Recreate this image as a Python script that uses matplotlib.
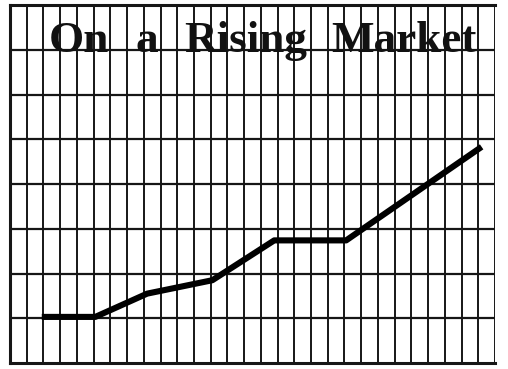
import matplotlib.pyplot as plt
import numpy as np

# chart values, in grid squares
title_words = ["On", "a", "Rising", "Market"]
x_vals = [1.9, 5.1, 8.2, 12.1, 15.8, 20.1, 28.2]
y_vals = [1.03, 1.03, 1.55, 1.85, 2.74, 2.74, 4.83]
n_cols = 29
n_rows = 8

fig = plt.figure(figsize=(5.08, 3.69), dpi=100)
ax = fig.add_axes([10 / 508, 6 / 369, 485 / 508, 358 / 369])
ax.set_xlim(0, n_cols)
ax.set_ylim(0, n_rows)

ink = "#161616"
for i in range(1, n_cols + 1):
    ax.axvline(i, color=ink, lw=1.4, zorder=1)
for j in range(1, n_rows):
    ax.axhline(j, color=ink, lw=1.6, zorder=1)

ax.plot(x_vals, y_vals, color="black", lw=4.4, solid_capstyle="butt",
        solid_joinstyle="round", zorder=3)

# title words spread across the top band
word_x = [4.12, 8.16, 14.09, 23.56]
for w, wx in zip(title_words, word_x):
    ax.text(wx, 6.95, w, ha="center", va="baseline", fontsize=32.5,
            family="Liberation Serif", fontweight="bold", color="#111111",
            zorder=4)

ax.set_xticks([])
ax.set_yticks([])
for side in ["left", "bottom", "top"]:
    ax.spines[side].set_linewidth(2.2)
    ax.spines[side].set_color(ink)
ax.spines["right"].set_visible(False)

fig.savefig("out.png", dpi=100, facecolor="white")
